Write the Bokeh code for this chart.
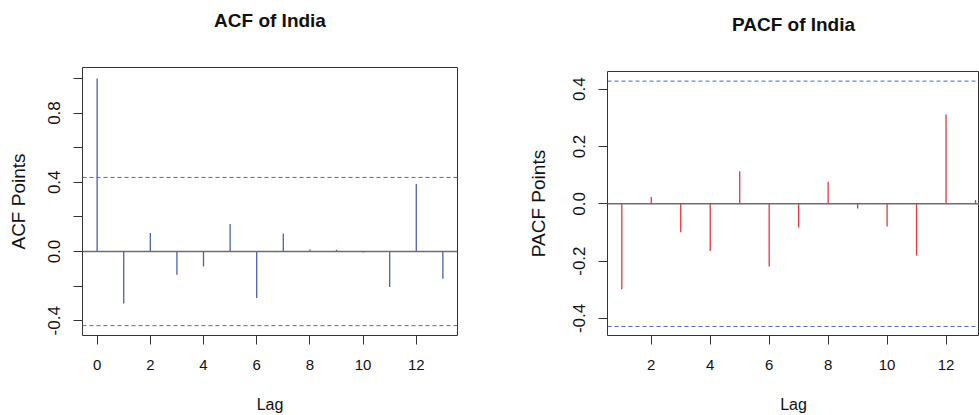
from bokeh.plotting import figure
from bokeh.layouts import row, column
from bokeh.models import Range1d, FixedTicker, Span, NumeralTickFormatter, ColumnDataSource, LinearAxis
from bokeh.embed import file_html
from bokeh.resources import INLINE

# ---- data ----
acf_lags = [0, 1, 2, 3, 4, 5, 6, 7, 8, 9, 10, 11, 12, 13]
acf_vals = [1.0, -0.300, 0.107, -0.134, -0.086, 0.159, -0.268, 0.104, 0.012, 0.010, -0.005, -0.205, 0.390, -0.157]
pacf_lags = [1, 2, 3, 4, 5, 6, 7, 8, 9, 10, 11, 12, 13]
pacf_vals = [-0.298, 0.024, -0.099, -0.165, 0.114, -0.219, -0.083, 0.077, -0.016, -0.079, -0.180, 0.312, 0.013]
conf_level = 0.428
acf_yticks = [-0.4, 0.0, 0.4, 0.8]
acf_yminor = [-0.2, 0.2, 0.6, 1.0]
pacf_yticks = [-0.4, -0.2, 0.0, 0.2, 0.4]
acf_xticks = [0, 2, 4, 6, 8, 10, 12]
pacf_xticks = [2, 4, 6, 8, 10, 12]
titles = ["ACF of India", "PACF of India"]

FONT = "Liberation Sans"
BOX = "#333333"
CI_COLOR = "#4a68bf"


def style(p, title_text, ylabel, y_label_standoff, title_gap):
    p.title.text = title_text
    p.title.align = "center"
    p.title.text_font = FONT
    p.title.text_font_size = "19px"
    p.title.text_font_style = "bold"
    p.title.text_color = "#111111"
    p.title.standoff = 10
    # blank spacer between title and frame (no ticks, no visible labels)
    spacer = LinearAxis(ticker=FixedTicker(ticks=[]), axis_line_color=None,
                        major_tick_line_color=None, minor_tick_line_color=None,
                        major_tick_in=0, major_tick_out=0, minor_tick_out=0,
                        major_label_standoff=0,
                        axis_label=" ", axis_label_standoff=title_gap,
                        axis_label_text_font_size="13px",
                        axis_label_text_color="white")
    p.add_layout(spacer, "above")
    p.xgrid.visible = False
    p.ygrid.visible = False
    p.outline_line_color = BOX
    p.outline_line_width = 1
    p.background_fill_color = "white"
    p.border_fill_color = "white"
    xa = p.below[0]
    ya = p.left[0]
    xa.axis_label = "Lag"
    ya.axis_label = ylabel
    for ax in (xa, ya):
        ax.axis_line_color = None
        ax.major_tick_line_color = BOX
        ax.minor_tick_line_color = BOX
        ax.major_tick_in = 0
        ax.major_tick_out = 9
        ax.minor_tick_in = 0
        ax.minor_tick_out = 9
        ax.major_label_text_font = FONT
        ax.major_label_text_color = "#111111"
        ax.axis_label_text_font = FONT
        ax.axis_label_text_font_style = "normal"
        ax.axis_label_text_color = "#111111"
    xa.major_label_text_font_size = "15px"
    xa.axis_label_text_font_size = "16px"
    xa.major_label_standoff = 15
    xa.axis_label_standoff = 23
    ya.major_label_text_font_size = "17px"
    ya.axis_label_text_font_size = "19px"
    ya.major_label_standoff = 13
    ya.axis_label_standoff = y_label_standoff
    ya.major_label_orientation = "vertical"
    ya.formatter = NumeralTickFormatter(format="0.0")
    return xa, ya


# ---- ACF ----
p1 = figure(width=490, height=415, output_backend="svg", toolbar_location=None,
            x_range=Range1d(-0.55, 13.55), y_range=Range1d(-0.485, 1.063),
            min_border_left=82, min_border_right=33, min_border_top=67, min_border_bottom=79)
xa1, ya1 = style(p1, titles[0], "ACF Points", 17, 14)
xa1.ticker = FixedTicker(ticks=acf_xticks)
ya1.ticker = FixedTicker(ticks=acf_yticks, minor_ticks=acf_yminor)
p1.add_layout(Span(location=0, dimension="width", line_color="#6e6e6e", line_width=1.6))
for s in (conf_level, -conf_level):
    p1.add_layout(Span(location=s, dimension="width", line_color=CI_COLOR, line_width=1, line_dash="4 3"))
src1 = ColumnDataSource(dict(x=acf_lags, y=acf_vals, z=[0] * len(acf_lags)))
p1.segment(x0="x", y0="z", x1="x", y1="y", source=src1, line_color="#4a60b2", line_width=1.3)

# ---- PACF ----
p2 = figure(width=489, height=415, output_backend="svg", toolbar_location=None,
            x_range=Range1d(0.515, 13.135), y_range=Range1d(-0.4595, 0.4616),
            min_border_left=117, min_border_right=0, min_border_top=71, min_border_bottom=80)
xa2, ya2 = style(p2, titles[1], "PACF Points", 22, 14)
xa2.ticker = FixedTicker(ticks=pacf_xticks)
ya2.ticker = FixedTicker(ticks=pacf_yticks)
p2.add_layout(Span(location=0, dimension="width", line_color="#6e6e6e", line_width=1.6))
for s in (conf_level, -conf_level):
    p2.add_layout(Span(location=s, dimension="width", line_color=CI_COLOR, line_width=1, line_dash="4 3"))
src2 = ColumnDataSource(dict(x=pacf_lags, y=pacf_vals, z=[0] * len(pacf_lags)))
p2.segment(x0="x", y0="z", x1="x", y1="y", source=src2, line_color="#e8363e", line_width=1.3)

layout = row(column(p1), column(p2))
open("out.html", "w").write(file_html(layout, INLINE))
